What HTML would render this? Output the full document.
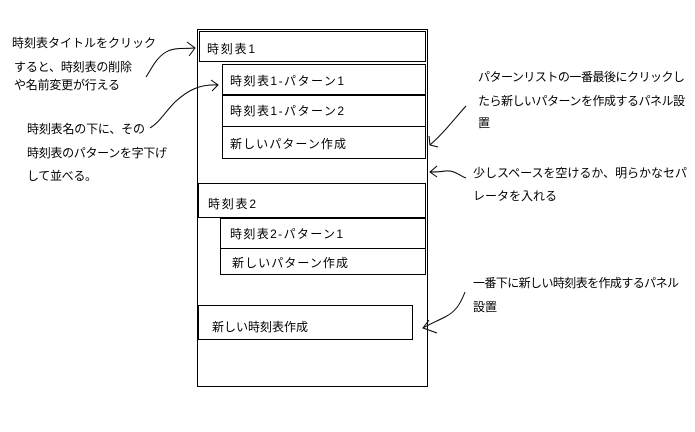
<!DOCTYPE html><html><head><meta charset="utf-8"><style>body{margin:0;background:#fff}svg{display:block}text{font-family:"Liberation Sans","Noto Sans CJK JP",sans-serif;font-size:12px;fill:#000}</style></head><body>
<svg width="695" height="432" viewBox="0 0 695 432" xmlns="http://www.w3.org/2000/svg">
<g fill="none" stroke="#000" stroke-width="1">
<rect x="197.5" y="29.5" width="230" height="357"/>
<rect x="199.5" y="31.5" width="226" height="30"/>
<rect x="222.5" y="64.5" width="203" height="30"/>
<rect x="222.5" y="95.5" width="203" height="31"/>
<rect x="222.5" y="126.5" width="203" height="32"/>
<rect x="198.5" y="183.5" width="227" height="34"/>
<rect x="220.5" y="218.5" width="205" height="30"/>
<rect x="220.5" y="248.5" width="205" height="26"/>
<rect x="198.5" y="305.5" width="214" height="34"/>
<path d="M146,77 C152,68 156,58 166,52 C175,47 185,49 194,48"/>
<path d="M187,42 L195,48 L189,56"/>
<path d="M150,128 C160,122 165,112 175,102 C188,90 200,84 218,85"/>
<path d="M211,80 L218,85 L212,91"/>
<path d="M466,106 C455,118 445,132 430,145"/>
<path d="M429,136 L430,145 L438,147"/>
<path d="M466,178 C458,175 455,170 445,171 C440,172 435,172 430,172"/>
<path d="M437,166 L430,172 L437,177"/>
<path d="M465,292 C460,305 455,312 445,317 C435,322 428,325 423,328"/>
<path d="M429,320 L423,328 L437,333"/>
</g>
<text x="12" y="47" textLength="144">時刻表タイトルをクリック</text>
<text x="14" y="71" textLength="118">すると、時刻表の削除</text>
<text x="14" y="89" textLength="106">や名前変更が行える</text>
<text x="27" y="133" textLength="118">時刻表名の下に、その</text>
<text x="27" y="157" textLength="140">時刻表のパターンを字下げ</text>
<text x="27" y="180" textLength="70">して並べる。</text>
<text x="478" y="81" textLength="207">パターンリストの一番最後にクリックし</text>
<text x="478" y="105" textLength="207">たら新しいパターンを作成するパネル設</text>
<text x="478" y="127">置</text>
<text x="473" y="177" textLength="214">少しスペースを空けるか、明らかなセパ</text>
<text x="473" y="200" textLength="84">レータを入れる</text>
<text x="473" y="287" textLength="206">一番下に新しい時刻表を作成するパネル</text>
<text x="473" y="311">設置</text>
<text x="207" y="53" textLength="48">時刻表1</text>
<text x="230" y="85" textLength="114">時刻表1-パターン1</text>
<text x="230" y="115" textLength="114">時刻表1-パターン2</text>
<text x="230" y="148" textLength="116">新しいパターン作成</text>
<text x="208" y="208" textLength="48">時刻表2</text>
<text x="230" y="238" textLength="113">時刻表2-パターン1</text>
<text x="232" y="267" textLength="116">新しいパターン作成</text>
<text x="212" y="331" textLength="96">新しい時刻表作成</text>
</svg></body></html>
